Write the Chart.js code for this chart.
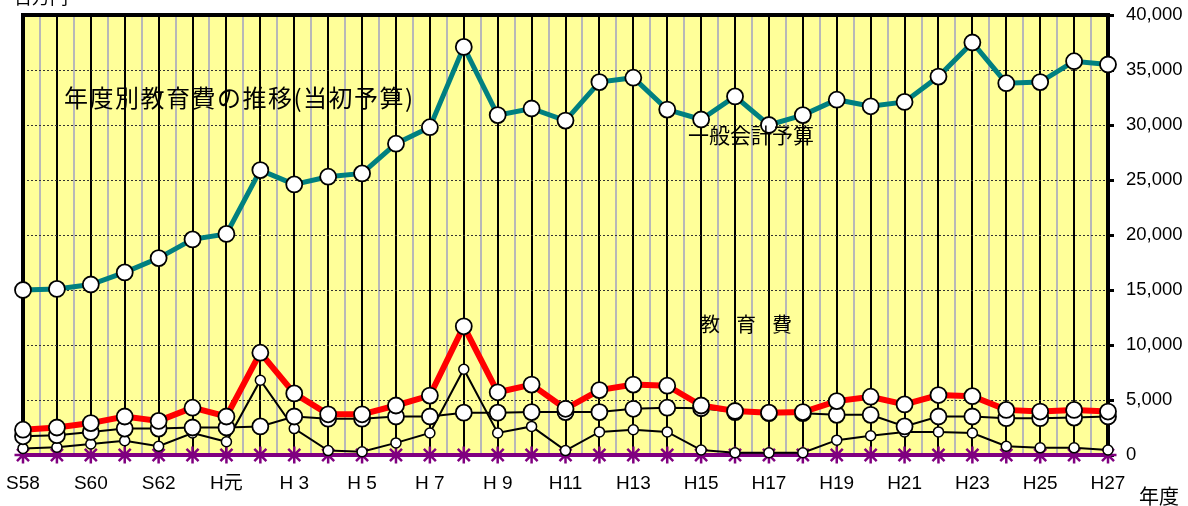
<!DOCTYPE html>
<html>
<head>
<meta charset="utf-8">
<script src="https://cdn.jsdelivr.net/npm/chart.js@4/dist/chart.umd.min.js"></script>
<style>
  html,body{margin:0;padding:0;background:#fff;}
  #wrap{width:1188px;height:506px;}
</style>
</head>
<body>
<div id="wrap"><canvas id="c" width="1188" height="506"></canvas></div>
<script>
const categories = ['S58','S59','S60','S61','S62','S63','H元','H 2','H 3','H 4','H 5','H 6','H 7','H 8','H 9','H10',
  'H11','H12','H13','H14','H15','H16','H17','H18','H19','H20','H21','H22','H23','H24','H25','H26','H27'];
const generalBudget = [15000,15100,15500,16600,17900,19600,20100,25900,24600,25300,25600,28300,29800,37100,30900,31500,
  30400,33900,34300,31400,30500,32600,30000,30900,32300,31700,32100,34400,37500,33800,33900,35800,35500];
const educationTotal = [2300,2500,2900,3500,3100,4300,3500,9300,5600,3700,3700,4500,5400,11700,5700,6400,
  4200,5900,6400,6300,4500,4000,3850,3900,4900,5300,4600,5450,5350,4100,3950,4100,3950];
const seriesA = [1700,1800,2100,2400,2400,2500,2500,2600,3500,3300,3300,3500,3500,3850,3850,3900,
  3900,3900,4200,4300,4250,3900,3800,3800,3650,3650,2600,3500,3500,3350,3350,3400,3500];
const seriesB = [600,700,1000,1300,800,2000,1200,6800,2400,400,300,1100,2000,7800,2000,2600,
  400,2100,2300,2100,450,200,200,200,1350,1750,2100,2100,2000,800,650,650,450];
const seriesC = [0,0,0,0,0,0,0,0,0,0,0,0,0,0,0,0,0,0,0,0,0,0,0,0,0,0,0,0,0,0,0,0,0];
const yTicks = [0,5000,10000,15000,20000,25000,30000,35000,40000];

const numFont = '"Liberation Sans", "Noto Sans CJK JP", sans-serif';
const jpFont = '"Noto Sans CJK JP", sans-serif';

const deco = {
  id: 'deco',
  beforeDraw(chart) {
    const {ctx, chartArea: a, scales: {x}} = chart;
    ctx.save();
    ctx.fillStyle = '#FFFF99';
    ctx.fillRect(a.left, a.top, a.right - a.left, a.bottom - a.top);
    ctx.strokeStyle = '#b8b8b8';
    ctx.lineWidth = 2;
    for (let i = 0; i < categories.length - 1; i++) {
      const px = Math.round(x.getPixelForValue(i + 0.5));
      ctx.beginPath(); ctx.moveTo(px, a.top); ctx.lineTo(px, a.bottom); ctx.stroke();
    }
    ctx.restore();
  },
  beforeDatasetsDraw(chart) {
    const {ctx, chartArea: a} = chart;
    ctx.save();
    ctx.strokeStyle = '#000';
    ctx.lineWidth = 4;
    ctx.beginPath();
    ctx.moveTo(a.left, a.bottom);
    ctx.lineTo(a.left, a.top);
    ctx.lineTo(a.right, a.top);
    ctx.lineTo(a.right, a.bottom);
    ctx.stroke();
    ctx.lineWidth = 2;
    ctx.beginPath(); ctx.moveTo(a.left, a.bottom); ctx.lineTo(a.right, a.bottom); ctx.stroke();
    ctx.restore();
  },
  afterDatasetsDraw(chart) {
    const {ctx} = chart;
    ctx.save();
    ctx.fillStyle = '#000';
    ctx.textBaseline = 'middle';
    ctx.textAlign = 'left';
    ctx.font = '24px ' + jpFont;
    try { ctx.letterSpacing = '1.5px'; } catch (e) {}
    ctx.fillText('年度別教育費の推移(当初予算)', 64, 98);
    try { ctx.letterSpacing = '0px'; } catch (e) {}
    ctx.font = '21px ' + jpFont;
    ctx.fillText('一般会計予算', 688, 135);
    ctx.font = '20px ' + jpFont;
    ctx.fillText('教', 700, 324);
    ctx.fillText('育', 736, 324);
    ctx.fillText('費', 772, 324);
    ctx.font = '20px ' + jpFont;
    ctx.fillText('年度', 1139, 496);
    ctx.font = '18px ' + jpFont;
    ctx.textBaseline = 'bottom';
    ctx.fillText('百万円', 14, 6);
    ctx.restore();
  }
};

function circleDs(data, color, width, radius, bw) {
  return {
    data, borderColor: color, borderWidth: width,
    pointStyle: 'circle', pointRadius: radius, pointBackgroundColor: '#fff',
    pointBorderColor: '#000', pointBorderWidth: bw, pointHoverRadius: radius,
    tension: 0, clip: false
  };
}

new Chart(document.getElementById('c'), {
  type: 'line',
  data: {
    labels: categories,
    datasets: [
      circleDs(generalBudget, '#008080', 5, 8, 1.8),
      circleDs(educationTotal, '#FF0000', 6, 8, 1.8),
      circleDs(seriesA, '#000000', 2, 8, 1.8),
      circleDs(seriesB, '#000000', 2, 5, 1.5),
      {
        data: seriesC, borderColor: '#800080', borderWidth: 4,
        pointStyle: 'star', pointRadius: 8.5, pointBorderColor: '#800080',
        pointBackgroundColor: '#800080', pointBorderWidth: 2.5, tension: 0, clip: false
      }
    ]
  },
  options: {
    responsive: false,
    animation: false,
    devicePixelRatio: 1,
    layout: {padding: {top: 15, left: 23, right: 0, bottom: 0}},
    plugins: {legend: {display: false}, tooltip: {enabled: false}},
    events: [],
    scales: {
      x: {
        type: 'category',
        offset: false,
        grid: {color: '#000', lineWidth: 2, drawTicks: false},
        border: {display: false},
        ticks: {
          autoSkip: false, maxRotation: 0, minRotation: 0, padding: 17,
          color: '#000', font: {family: numFont, size: 19},
          callback: (v, i) => (i % 2 === 0 ? categories[i] : '')
        },
        afterFit(s) { s.height = 51; s.paddingLeft = 0; s.paddingRight = 0; }
      },
      y: {
        position: 'right',
        min: 0, max: 40000,
        afterBuildTicks(s) { s.ticks = yTicks.map(v => ({value: v})); },
        grid: {color: '#333', lineWidth: 1, drawTicks: true, tickLength: 6, tickColor: '#000', tickWidth: 3},
        border: {display: false, dash: [2, 2]},
        ticks: {
          padding: 12, color: '#000', font: {family: numFont, size: 18.5},
          callback: v => v.toLocaleString('en-US')
        },
        afterFit(s) { s.width = 80; s.paddingTop = 0; s.paddingBottom = 0; }
      }
    }
  },
  plugins: [deco]
});
</script>
</body>
</html>
